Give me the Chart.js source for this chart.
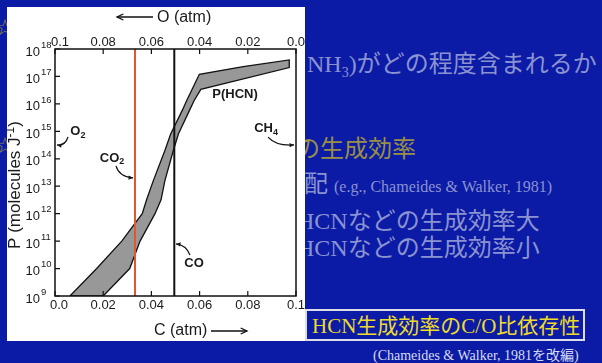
<!DOCTYPE html>
<html>
<head>
<meta charset="utf-8">
<script src="https://cdn.jsdelivr.net/npm/chart.js@4.4.1/dist/chart.umd.min.js"></script>
<style>
  html, body { margin: 0; padding: 0; }
  body {
    width: 602px; height: 363px; overflow: hidden; position: relative;
    background: #0b1ba6;
    font-family: "Liberation Serif", "Noto Sans CJK JP", serif;
  }
  .t { position: absolute; white-space: nowrap; line-height: 1; z-index: 1; }
  .t sub { font-size: 14px; vertical-align: baseline; position: relative; top: 5px; line-height: 0; }
  .star { font-family: "DejaVu Sans"; font-size: 22px; color: #9a8f45; }
  .soft { color: #8a92d0; font-size: 24px; }
  #panel { position: absolute; left: 7px; top: 7px; width: 298px; height: 334px; background: #fff; z-index: 2; }
  #panel canvas { display: block; }
  #box { position: absolute; left: 305px; top: 309px; width: 276px; height: 28px; border: 2px solid #dcdde8; z-index: 3; }
</style>
</head>
<body>

<div class="t star" style="left:-5px; top:17px;">☆</div>
<div class="t star" style="left:-5px; top:135px;">☆</div>

<div class="t soft" style="left:307px; top:52px;">NH<sub>3</sub>)がどの程度含まれるか</div>
<div class="t" style="left:296px; top:137px; font-size:24px; color:#9a8f45;">の生成効率</div>
<div class="t soft" style="left:304px; top:172px;">配 <span style="font-size:16px">(e.g., Chameides &amp; Walker, 1981)</span></div>
<div class="t soft" style="left:297px; top:209px;">HCNなどの生成効率大</div>
<div class="t soft" style="left:297px; top:236px;">HCNなどの生成効率小</div>

<div id="panel"><canvas id="hcnChart" width="298" height="334"></canvas></div>

<div id="box"></div>
<div class="t" style="left:312px; top:316px; font-size:21px; color:#eedc2a; z-index:4;">HCN生成効率のC/O比依存性</div>
<div class="t" style="left:373px; top:349px; font-size:14px; color:#d8dbf0;">(Chameides &amp; Walker, 1981を改編)</div>

<script>
// axis ticks
var cTicks = [0, 0.02, 0.04, 0.06, 0.08, 0.1];
var cTickLabels = ['0.0', '0.02', '0.04', '0.06', '0.08', '0.1'];
var oTicks = [0.1, 0.08, 0.06, 0.04, 0.02, 0];
var oTickLabels = ['0.1', '0.08', '0.06', '0.04', '0.02', '0.0'];
var pExponents = [9, 10, 11, 12, 13, 14, 15, 16, 17, 18];

// P(HCN) band: high-P edge and low-P edge
var upperC = [0.0062, 0.0173, 0.0277, 0.0362, 0.0380, 0.0408, 0.0456, 0.0480, 0.0530, 0.0546, 0.0599, 0.0781, 0.0972];
var upperP = [1e9, 1e10, 1e11, 1e12, 3.2e12, 1.6e13, 2e14, 8e14, 6.3e15, 1.3e16, 1.2e17, 2.3e17, 4e17];
var lowerC = [0.0200, 0.0310, 0.0353, 0.0415, 0.0440, 0.0456, 0.0491, 0.0512, 0.0560, 0.0577, 0.0605, 0.0972];
var lowerP = [1e9, 1e10, 1e11, 1e12, 3.2e12, 1.6e13, 2e14, 8e14, 6.3e15, 1.3e16, 3.4e16, 2.1e17];

// C (atm) where CO2 and CO dominate
var co2C = 0.0332;
var coC = 0.0495;
var pRange = [1e9, 1e18];

// labels on the plot, placed in data units
var notes = [
    { parts: [['O', 0], ['2', 1]], at: [0.0095, 1.0e15], from: [0.0054, 6.2e14], ctrl: [0.0042, 2.9e14], to: [0.0008, 3.2e14] },
    { parts: [['CH', 0], ['4', 1]], at: [0.0876, 1.3e15], from: [0.0884, 6.2e14], ctrl: [0.0917, 2.9e14], to: [0.0992, 3.2e14] },
    { parts: [['CO', 0], ['2', 1]], at: [0.0237, 1.07e14], from: [0.0253, 5.5e13], ctrl: [0.0266, 2.2e13], to: [0.0324, 2.0e13] },
    { parts: [['CO', 0]], at: [0.0577, 1.5e10], from: [0.0560, 3.1e10], ctrl: [0.0544, 7.2e10], to: [0.0502, 7.9e10] },
    { parts: [['P(HCN)', 0]], at: [0.0747, 2.3e16], size: 13 }
];

// build the closed band outline
var band = [];
for (var i = 0; i < upperC.length; i++) band.push({ x: upperC[i], y: upperP[i] });
for (var j = lowerC.length - 1; j >= 0; j--) band.push({ x: lowerC[j], y: lowerP[j] });
band.push({ x: upperC[0], y: upperP[0] });

var FONT = '"Liberation Sans", Arial, sans-serif';

function arrowHead(ctx, x, y, ang, len, open) {
    ctx.beginPath();
    ctx.moveTo(x + Math.cos(ang + 2.7) * len, y + Math.sin(ang + 2.7) * len);
    ctx.lineTo(x, y);
    ctx.lineTo(x + Math.cos(ang - 2.7) * len, y + Math.sin(ang - 2.7) * len);
    if (open) { ctx.stroke(); } else { ctx.closePath(); ctx.fill(); }
}

function drawParts(ctx, parts, cx, cy, size) {
    var w = 0;
    parts.forEach(function (p) {
        ctx.font = 'bold ' + (p[1] ? size - 4 : size) + 'px ' + FONT;
        w += ctx.measureText(p[0]).width;
    });
    var x = cx - w / 2;
    ctx.textAlign = 'left';
    ctx.textBaseline = 'middle';
    parts.forEach(function (p) {
        ctx.font = 'bold ' + (p[1] ? size - 4 : size) + 'px ' + FONT;
        ctx.fillText(p[0], x, p[1] ? cy + 4 : cy);
        x += ctx.measureText(p[0]).width;
    });
}

var axesPlugin = {
    id: 'axesPlugin',
    afterDatasetsDraw: function (chart) {
        var ctx = chart.ctx, a = chart.chartArea;
        var xs = chart.scales.x, xt = chart.scales.xTop, ys = chart.scales.y;
        ctx.save();
        ctx.strokeStyle = '#111';
        ctx.fillStyle = '#1a1a1a';

        // frame
        ctx.lineWidth = 1.5;
        ctx.strokeRect(a.left, a.top, a.right - a.left, a.bottom - a.top);

        // inward ticks
        ctx.lineWidth = 1.2;
        ctx.beginPath();
        cTicks.forEach(function (v) {
            var px = xs.getPixelForValue(v);
            ctx.moveTo(px, a.bottom); ctx.lineTo(px, a.bottom - 5);
        });
        oTicks.forEach(function (v) {
            var px = xt.getPixelForValue(v);
            ctx.moveTo(px, a.top); ctx.lineTo(px, a.top + 5);
        });
        pExponents.forEach(function (e) {
            var py = ys.getPixelForValue(Math.pow(10, e));
            ctx.moveTo(a.left, py); ctx.lineTo(a.left + 5, py);
        });
        ctx.stroke();

        // tick labels
        ctx.font = '13px ' + FONT;
        ctx.textAlign = 'center';
        ctx.textBaseline = 'middle';
        cTicks.forEach(function (v, i) {
            var px = xs.getPixelForValue(v) + (i === 0 ? 4 : 0);
            ctx.fillText(cTickLabels[i], px, a.bottom + 9);
        });
        oTicks.forEach(function (v, i) {
            var px = xt.getPixelForValue(v) + (i === 0 ? 5 : 0);
            ctx.fillText(oTickLabels[i], px, a.top - 7);
        });
        pExponents.forEach(function (e) {
            var py = ys.getPixelForValue(Math.pow(10, e));
            ctx.font = '13px ' + FONT;
            ctx.textAlign = 'right';
            ctx.fillText('10', a.left - 15, py + 3);
            ctx.font = '9.5px ' + FONT;
            ctx.textAlign = 'left';
            ctx.fillText(String(e), a.left - 14, py - 4);
        });

        // axis titles
        ctx.font = '16px ' + FONT;
        ctx.textAlign = 'left';
        ctx.fillText('O (atm)', a.left + 102, a.top - 31);
        ctx.fillText('C (atm)', a.left + 99, a.bottom + 35);
        ctx.lineWidth = 1.3;
        ctx.beginPath();
        ctx.moveTo(a.left + 62, a.top - 32); ctx.lineTo(a.left + 98, a.top - 32);
        ctx.moveTo(a.left + 156, a.bottom + 35); ctx.lineTo(a.left + 192, a.bottom + 35);
        ctx.stroke();
        arrowHead(ctx, a.left + 62, a.top - 32, Math.PI, 7, true);
        arrowHead(ctx, a.left + 192, a.bottom + 35, 0, 7, true);

        // y title, rotated, with J^-1
        ctx.save();
        ctx.translate(a.left - 39.5, a.top + 136);
        ctx.rotate(-Math.PI / 2);
        var t1 = 'P (molecules J', t2 = '-1', t3 = ')';
        ctx.font = '17px ' + FONT;
        var w1 = ctx.measureText(t1).width, w3 = ctx.measureText(t3).width;
        ctx.font = '12px ' + FONT;
        var w2 = ctx.measureText(t2).width;
        var x0 = -(w1 + w2 + w3) / 2;
        ctx.textAlign = 'left';
        ctx.font = '17px ' + FONT;
        ctx.fillText(t1, x0, 0);
        ctx.fillText(t3, x0 + w1 + w2, 0);
        ctx.font = '12px ' + FONT;
        ctx.fillText(t2, x0 + w1, -5);
        ctx.restore();

        // annotations with curved arrows
        ctx.lineWidth = 1.2;
        notes.forEach(function (n) {
            drawParts(ctx, n.parts, xs.getPixelForValue(n.at[0]), ys.getPixelForValue(n.at[1]), n.size || 13);
            if (!n.from) return;
            var fx = xs.getPixelForValue(n.from[0]), fy = ys.getPixelForValue(n.from[1]);
            var cx = xs.getPixelForValue(n.ctrl[0]), cy = ys.getPixelForValue(n.ctrl[1]);
            var tx = xs.getPixelForValue(n.to[0]), ty = ys.getPixelForValue(n.to[1]);
            ctx.beginPath();
            ctx.moveTo(fx, fy);
            ctx.quadraticCurveTo(cx, cy, tx, ty);
            ctx.stroke();
            arrowHead(ctx, tx, ty, Math.atan2(ty - cy, tx - cx), 5, false);
        });
        ctx.restore();
    }
};

var ctx = document.getElementById('hcnChart').getContext('2d');
var hcnChart = new Chart(ctx, {
    type: 'line',
    data: {
        datasets: [{
            label: 'CO',
            data: [{ x: coC, y: pRange[0] }, { x: coC, y: pRange[1] }],
            borderColor: '#111',
            borderWidth: 2,
            pointRadius: 0,
            fill: false,
            order: 1
        }, {
            label: 'CO2',
            data: [{ x: co2C, y: pRange[0] }, { x: co2C, y: pRange[1] }],
            borderColor: '#e2572f',
            borderWidth: 2,
            pointRadius: 0,
            fill: false,
            order: 2
        }, {
            label: 'P(HCN)',
            data: band,
            borderColor: '#111',
            borderWidth: 1.3,
            backgroundColor: '#989898',
            pointRadius: 0,
            tension: 0,
            fill: 'shape',
            order: 3
        }]
    },
    options: {
        responsive: false,
        animation: false,
        events: [],
        layout: { padding: { left: 48, right: 9, top: 42, bottom: 45 } },
        plugins: {
            legend: { display: false },
            tooltip: { enabled: false }
        },
        scales: {
            x: { type: 'linear', position: 'bottom', min: 0, max: 0.1, display: false },
            xTop: { type: 'linear', position: 'top', min: 0, max: 0.1, reverse: true, display: false },
            y: { type: 'logarithmic', min: 1e9, max: 1e18, display: false }
        }
    },
    plugins: [axesPlugin]
});
</script>
</body>
</html>
